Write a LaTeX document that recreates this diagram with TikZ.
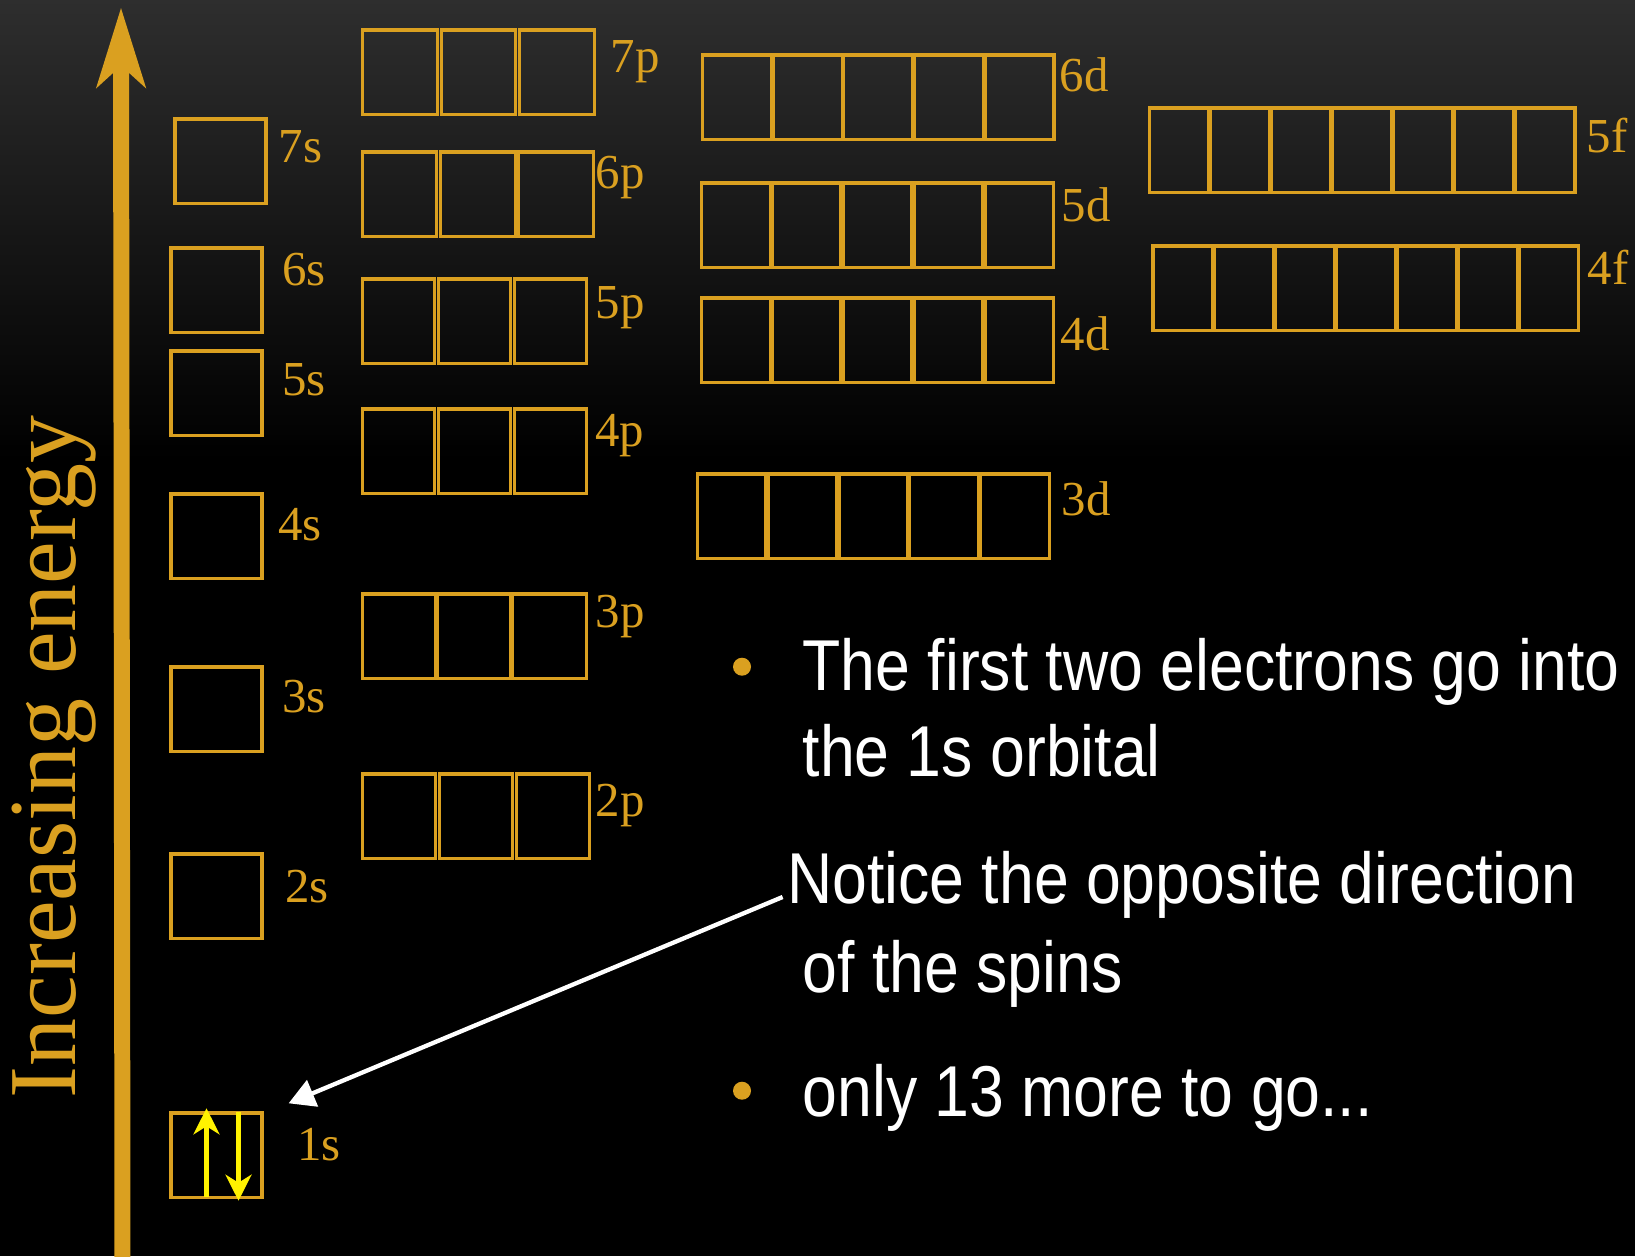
\documentclass[tikz,border=0pt]{standalone}
\usepackage{fontspec}
\setmainfont{Liberation Serif}
\newfontfamily\smalsans[FakeStretch=0.868]{Liberation Sans}
\usetikzlibrary{arrows.meta}
\definecolor{orbgoud}{RGB}{218,160,32}
\tikzset{
  orbhokje/.style={draw=orbgoud, line width=0.9pt},
  orblabel/.style={text=orbgoud, font=\fontsize{13.9}{16}\selectfont, anchor=base west, inner sep=0pt},
  uitleg/.style={text=white, font=\smalsans\fontsize{20.5}{24}\selectfont, anchor=base west, inner sep=0pt},
}
\begin{document}
\begin{tikzpicture}[x=1cm, y=-1cm, >=Stealth]

  % Achtergrond
  \useasboundingbox (0,0) rectangle (16.35,12.56);
  \fill[black] (0,0) rectangle (16.35,12.56);
  \shade[top color=black!82!white, bottom color=black] (0,0) rectangle (16.35,4.6);

  % Energiepijl
  \draw[orbgoud, line width=4.55pt, -{Stealth[length=0.79cm, width=0.48cm, inset=0.21cm]}]
    (1.225,12.7) -- (1.21,0.075);
  \node[text=orbgoud, rotate=90, anchor=base, font=\fontsize{27.3}{30}\selectfont] (energie)
    at (0.75,7.57) {Increasing energy};

  % s-orbitalen
  \foreach \x/\y in {1.75/1.19, 1.71/2.48, 1.71/3.51, 1.71/4.94, 1.71/6.67, 1.71/8.54, 1.71/11.13}
    \draw[orbhokje] (\x,\y) rectangle ++(0.91,0.845);

  % p-, d- en f-orbitalen
  \foreach \x/\y/\n/\p/\w in {3.627/0.30/3/0.785/0.745, 3.623/1.52/3/0.783/0.745,
      3.623/2.79/3/0.759/0.725, 3.623/4.09/3/0.759/0.725, 3.623/5.94/3/0.752/0.735,
      3.623/7.74/3/0.77/0.735,
      7.027/0.55/5/0.7055/0.69, 7.017/1.83/5/0.709/0.684, 7.017/2.98/5/0.709/0.684,
      6.973/4.74/5/0.7085/0.686,
      11.495/1.08/7/0.61/0.595, 11.53/2.46/7/0.61/0.595}
    \foreach \i in {1,...,\n}
      \draw[orbhokje] ({\x+(\i-1)*\p},\y) rectangle ++(\w,0.845);

  % Labels
  \foreach \x/\y/\t in {2.78/1.627/7s, 2.817/2.85/6s, 2.817/3.95/5s, 2.777/5.407/4s,
      2.817/7.123/3s, 2.843/9.027/2s, 2.967/11.60/1s,
      6.10/0.727/7p, 5.95/1.883/6p, 5.95/3.183/5p, 5.943/4.467/4p, 5.95/6.273/3p, 5.95/8.16/2p,
      10.59/0.917/6d, 10.61/2.21/5d, 10.60/3.50/4d, 10.61/5.15/3d,
      15.86/1.527/5f, 15.87/2.84/4f}
    \node[orblabel] (l\t) at (\x,\y) {\t};

  % Spins in 1s
  \draw[yellow, line width=1.33pt, -{Stealth[length=0.26cm, width=0.26cm, inset=0.08cm]}]
    (2.065,11.967) -- (2.065,11.083);
  \draw[yellow, line width=1.33pt, -{Stealth[length=0.26cm, width=0.26cm, inset=0.08cm]}]
    (2.385,11.123) -- (2.385,12.007);

  % Tekst
  \fill[orbgoud] (7.42,6.667) circle (0.09);
  \node[uitleg] (eerste) at (8.02,6.90) {The first two electrons go into};
  \node[uitleg] (orbitaal) at (8.02,7.767) {the 1s orbital};
  \node[uitleg] (notice) at (7.866,9.03) {Notice the opposite direction};
  \node[uitleg] (spins) at (8.02,9.927) {of the spins};
  \fill[orbgoud] (7.42,10.907) circle (0.09);
  \node[uitleg] (nog) at (8.02,11.167) {only 13 more to go...};

  % Wijzer
  \coordinate (pijlpunt) at (2.886,11.033);
  \draw[white, line width=1.23pt, -{Triangle[length=0.26cm, width=0.28cm]}]
    ([xshift=-0.4mm, yshift=0.6mm]notice.base west) -- (pijlpunt);

\end{tikzpicture}
\end{document}
